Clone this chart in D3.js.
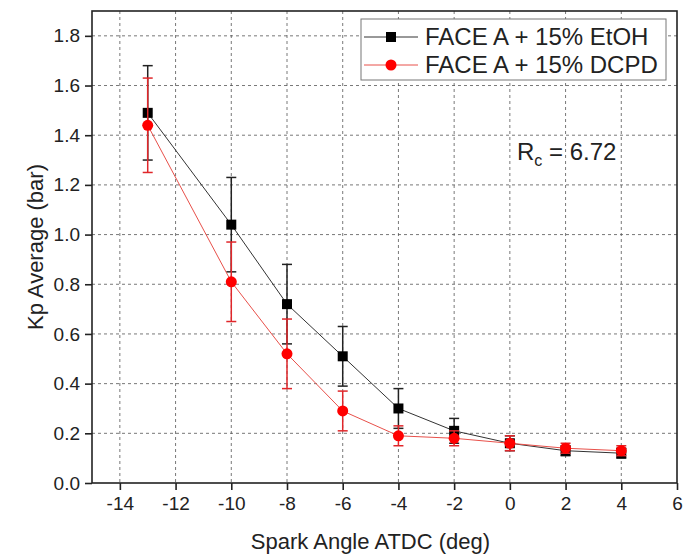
<!DOCTYPE html>
<html>
<head>
<meta charset="utf-8">
<script src="https://cdn.jsdelivr.net/npm/d3@7"></script>
<style>
  html, body { margin: 0; padding: 0; background: #fff; }
  svg { display: block; font-family: "Liberation Sans", Arial, sans-serif; }
</style>
</head>
<body>
<svg id="chart" width="698" height="557"></svg>
<script>
// ---- data ----
const angles   = [-13, -10, -8, -6, -4, -2, 0, 2, 4];
const etoh     = [1.49, 1.04, 0.72, 0.51, 0.30, 0.21, 0.16, 0.13, 0.12];
const etohErr  = [0.19, 0.19, 0.16, 0.12, 0.08, 0.05, 0.03, 0.02, 0.02];
const dcpd     = [1.44, 0.81, 0.52, 0.29, 0.19, 0.18, 0.16, 0.14, 0.13];
const dcpdErr  = [0.19, 0.16, 0.14, 0.08, 0.04, 0.03, 0.03, 0.02, 0.02];
const xTicks   = [-14, -12, -10, -8, -6, -4, -2, 0, 2, 4, 6];
const yTicks   = [0.0, 0.2, 0.4, 0.6, 0.8, 1.0, 1.2, 1.4, 1.6, 1.8];
const seriesNames = ["FACE A + 15% EtOH", "FACE A + 15% DCPD"];

// ---- layout ----
const L = 92, R = 677, T = 11, B = 483;
const svg = d3.select("#chart");
const x = d3.scaleLinear().domain([-15, 6]).range([L, R]);
const y = d3.scaleLinear().domain([0, 1.9]).range([B, T]);

// grid
const grid = svg.append("g").attr("stroke", "#555").attr("stroke-width", 0.8)
  .attr("stroke-dasharray", "3,3");
xTicks.filter(t => t > -15 && t < 6).forEach(t => {
  grid.append("line").attr("x1", x(t)).attr("x2", x(t)).attr("y1", T).attr("y2", B);
});
yTicks.filter(t => t > 0).forEach(t => {
  grid.append("line").attr("x1", L).attr("x2", R).attr("y1", y(t)).attr("y2", y(t));
});

// frame
svg.append("rect").attr("x", L).attr("y", T).attr("width", R - L).attr("height", B - T)
  .attr("fill", "none").attr("stroke", "#222").attr("stroke-width", 1.6);

// axes
const xAxis = d3.axisBottom(x).tickValues(xTicks).tickSize(7).tickPadding(7)
  .tickFormat(d3.format("d"));
const gx = svg.append("g").attr("transform", `translate(0,${B})`).call(xAxis);
const yAxis = d3.axisLeft(y).tickValues(yTicks).tickSize(7).tickPadding(5)
  .tickFormat(d3.format(".1f"));
const gy = svg.append("g").attr("transform", `translate(${L},0)`).call(yAxis);
[gx, gy].forEach(g => {
  g.select(".domain").remove();
  g.selectAll(".tick line").attr("stroke", "#222").attr("stroke-width", 1.6);
  g.selectAll(".tick text").attr("fill", "#222").style("font-size", "19px")
    .style("font-family", "Liberation Sans, Arial, sans-serif");
});
gx.selectAll(".tick text").text(d => d < 0 ? "-" + Math.abs(d) : d);

// axis titles
svg.append("text").attr("x", (L + R) / 2 - 14).attr("y", 549).attr("text-anchor", "middle")
  .attr("fill", "#222").style("font-size", "22px").text("Spark Angle ATDC (deg)");
svg.append("text").attr("transform", `translate(43,${(T + B) / 2}) rotate(-90)`)
  .attr("text-anchor", "middle").attr("fill", "#222").style("font-size", "22px")
  .text("Kp Average (bar)");

// series
const series = [
  { vals: etoh, err: etohErr, line: "#333", errc: "#222", mark: "square", fill: "#000" },
  { vals: dcpd, err: dcpdErr, line: "#e8504a", errc: "#e0262a", mark: "circle", fill: "#f00" }
];
series.forEach(s => {
  const pts = angles.map((a, i) => ({ a, v: s.vals[i], e: s.err[i] }));
  svg.append("path").datum(pts)
    .attr("d", d3.line().x(d => x(d.a)).y(d => y(d.v)))
    .attr("fill", "none").attr("stroke", s.line).attr("stroke-width", 1);
  const eg = svg.append("g").attr("stroke", s.errc).attr("stroke-width", 1.5);
  pts.forEach(d => {
    eg.append("line").attr("x1", x(d.a)).attr("x2", x(d.a))
      .attr("y1", y(d.v - d.e)).attr("y2", y(d.v + d.e));
    [d.v - d.e, d.v + d.e].forEach(v => {
      eg.append("line").attr("x1", x(d.a) - 5).attr("x2", x(d.a) + 5)
        .attr("y1", y(v)).attr("y2", y(v));
    });
  });
  const mg = svg.append("g");
  pts.forEach(d => {
    if (s.mark === "square") {
      mg.append("rect").attr("x", x(d.a) - 5).attr("y", y(d.v) - 5)
        .attr("width", 10).attr("height", 10).attr("fill", s.fill);
    } else {
      mg.append("circle").attr("cx", x(d.a)).attr("cy", y(d.v)).attr("r", 5.5)
        .attr("fill", s.fill);
    }
  });
});

// legend
const lg = svg.append("g");
lg.append("rect").attr("x", 361).attr("y", 19).attr("width", 305).attr("height", 61)
  .attr("fill", "#fff").attr("stroke", "#777").attr("stroke-width", 1);
series.forEach((s, i) => {
  const cy = 37 + i * 28;
  lg.append("line").attr("x1", 364).attr("x2", 418).attr("y1", cy).attr("y2", cy)
    .attr("stroke", s.line).attr("stroke-width", 1);
  if (s.mark === "square") {
    lg.append("rect").attr("x", 386).attr("y", cy - 5).attr("width", 10).attr("height", 10)
      .attr("fill", s.fill);
  } else {
    lg.append("circle").attr("cx", 391).attr("cy", cy).attr("r", 5.5).attr("fill", s.fill);
  }
  lg.append("text").attr("x", 425).attr("y", cy + 8).attr("fill", "#222")
    .style("font-size", "24px").text(seriesNames[i]);
});

// annotation
const ann = svg.append("text").attr("x", 517).attr("y", 160).attr("fill", "#222")
  .style("font-size", "24px");
ann.append("tspan").text("R");
ann.append("tspan").attr("dy", 6).style("font-size", "16px").text("c");
ann.append("tspan").attr("dy", -6).text(" = 6.72");
</script>
</body>
</html>
